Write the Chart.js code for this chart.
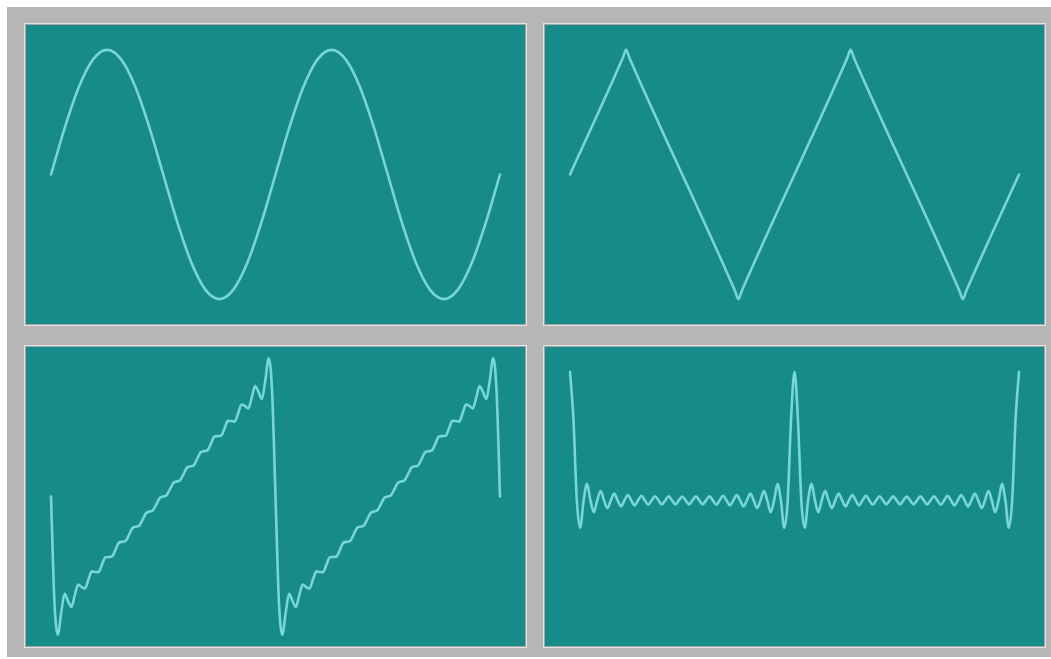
<!DOCTYPE html>
<html>
<head>
<meta charset="utf-8">
<script src="https://cdn.jsdelivr.net/npm/chart.js@4.4.1/dist/chart.umd.min.js"></script>
<style>
  html, body { margin: 0; padding: 0; background: #ffffff; width: 1051px; height: 659px; overflow: hidden; }
  #frame { position: absolute; left: 7px; top: 7px; width: 1044px; height: 650px; background: #b6b6b6; }
  .panel { position: absolute; width: 503px; height: 303px; box-sizing: border-box;
           border: 1px solid #e4e4e4; }
  .inner { width: 501px; height: 301px; box-sizing: border-box; border: 1px solid #a4a4a4; background: #168b89; }
  canvas { display: block; }
</style>
</head>
<body>
<div id="frame"></div>
<div class="panel" style="left:24px; top:23px;"><div class="inner"><canvas id="c1" width="499" height="299"></canvas></div></div>
<div class="panel" style="left:543px; top:23px;"><div class="inner"><canvas id="c2" width="499" height="299"></canvas></div></div>
<div class="panel" style="left:24px; top:345px;"><div class="inner"><canvas id="c3" width="499" height="299"></canvas></div></div>
<div class="panel" style="left:543px; top:345px;"><div class="inner"><canvas id="c4" width="499" height="299"></canvas></div></div>
<script>
// ---- data (time in periods, amplitude in units) ----
// Sine: sampled every 1/16 period over two periods
const sineStep = 1 / 16;
const sineValues = [0, 0.383, 0.707, 0.924, 1, 0.924, 0.707, 0.383, 0, -0.383, -0.707, -0.924, -1, -0.924, -0.707, -0.383,
                    0, 0.383, 0.707, 0.924, 1, 0.924, 0.707, 0.383, 0, -0.383, -0.707, -0.924, -1, -0.924, -0.707, -0.383, 0];

// Triangle: corner points
const triangleTimes  = [0, 0.235, 0.25, 0.265, 0.735, 0.75, 0.765, 1.235, 1.25, 1.265, 1.735, 1.75, 1.765, 2];
const triangleValues = [0, 0.935, 1.0, 0.935, -0.935, -1.0, -0.935, 0.935, 1.0, 0.935, -0.935, -1.0, -0.935, 0];

// Sawtooth (with ripple): sampled every 1/66 period over two periods
const sawStep = 1 / 66;
const sawValues = [
  0, -0.842, -1.11, -0.932, -0.782, -0.839, -0.887, -0.791, -0.706, -0.727,
  -0.739, -0.667, -0.601, -0.606, -0.607, -0.545, -0.487, -0.485, -0.480, -0.424,
  -0.370, -0.364, -0.356, -0.303, -0.252, -0.242, -0.233, -0.182, -0.132, -0.121,
  -0.110, -0.061, -0.011, 0, 0.011, 0.061, 0.110,
  0.121, 0.132, 0.182, 0.233, 0.242, 0.252, 0.303, 0.356, 0.364, 0.370,
  0.424, 0.480, 0.485, 0.487, 0.545, 0.607, 0.606, 0.601, 0.667, 0.739,
  0.727, 0.706, 0.791, 0.887, 0.839, 0.782, 0.932, 1.11, 0.842, 0,
  -0.842, -1.11, -0.932, -0.782, -0.839, -0.887, -0.791, -0.706, -0.727,
  -0.739, -0.667, -0.601, -0.606, -0.607, -0.545, -0.487, -0.485, -0.480, -0.424,
  -0.370, -0.364, -0.356, -0.303, -0.252, -0.242, -0.233, -0.182, -0.132, -0.121,
  -0.110, -0.061, -0.011, 0, 0.011, 0.061, 0.110,
  0.121, 0.132, 0.182, 0.233, 0.242, 0.252, 0.303, 0.356, 0.364, 0.370,
  0.424, 0.480, 0.485, 0.487, 0.545, 0.607, 0.606, 0.601, 0.667, 0.739,
  0.727, 0.706, 0.791, 0.887, 0.839, 0.782, 0.932, 1.11, 0.842, 0
];

// Pulse train (with ripple): sampled every 1/66 period over two periods
const pulseStep = 1 / 66;
const pulseValues = [
  1, 0.626, -0.031, -0.251, -0.031, 0.101, -0.031, -0.127, -0.031, 0.044,
  -0.031, -0.094, -0.031, 0.023, -0.031, -0.079, -0.031, 0.012, -0.031, -0.071,
  -0.031, 0.006, -0.031, -0.066, -0.031, 0.002, -0.031, -0.064, -0.031, 0.001,
  -0.031, -0.063, -0.031, 0.000, -0.031, -0.063, -0.031, 0.001, -0.031, -0.064,
  -0.031, 0.002, -0.031, -0.066, -0.031, 0.006, -0.031, -0.071, -0.031, 0.012,
  -0.031, -0.079, -0.031, 0.023, -0.031, -0.094, -0.031, 0.044, -0.031, -0.127,
  -0.031, 0.101, -0.031, -0.251, -0.031, 0.626, 1,
  0.626, -0.031, -0.251, -0.031, 0.101, -0.031, -0.127, -0.031, 0.044,
  -0.031, -0.094, -0.031, 0.023, -0.031, -0.079, -0.031, 0.012, -0.031, -0.071,
  -0.031, 0.006, -0.031, -0.066, -0.031, 0.002, -0.031, -0.064, -0.031, 0.001,
  -0.031, -0.063, -0.031, 0.000, -0.031, -0.063, -0.031, 0.001, -0.031, -0.064,
  -0.031, 0.002, -0.031, -0.066, -0.031, 0.006, -0.031, -0.071, -0.031, 0.012,
  -0.031, -0.079, -0.031, 0.023, -0.031, -0.094, -0.031, 0.044, -0.031, -0.127,
  -0.031, 0.101, -0.031, -0.251, -0.031, 0.626, 1
];

// axis ranges (time in periods, amplitude)
const xRange = [-0.1114, 2.1114];
const yRange = [-1.2, 1.2];

const lineColor = '#78d5d9';

function stepped(values, step) { return values.map((v, i) => ({ x: i * step, y: v })); }
function paired(times, values) { return times.map((t, i) => ({ x: t, y: values[i] })); }

function draw(id, points) {
  new Chart(document.getElementById(id), {
    type: 'line',
    data: { datasets: [{ data: points, borderColor: lineColor, borderWidth: 2.6, pointRadius: 0,
                         fill: false, cubicInterpolationMode: 'monotone', borderCapStyle: 'round', borderJoinStyle: 'round' }] },
    options: {
      responsive: false, animation: false, devicePixelRatio: 1,
      layout: { padding: 0 },
      plugins: { legend: { display: false }, tooltip: { enabled: false } },
      scales: {
        x: { type: 'linear', min: xRange[0], max: xRange[1], display: false },
        y: { type: 'linear', min: yRange[0], max: yRange[1], display: false }
      }
    }
  });
}

draw('c1', stepped(sineValues, sineStep));
draw('c2', paired(triangleTimes, triangleValues));
draw('c3', stepped(sawValues, sawStep));
draw('c4', stepped(pulseValues, pulseStep));
</script>
</body>
</html>
